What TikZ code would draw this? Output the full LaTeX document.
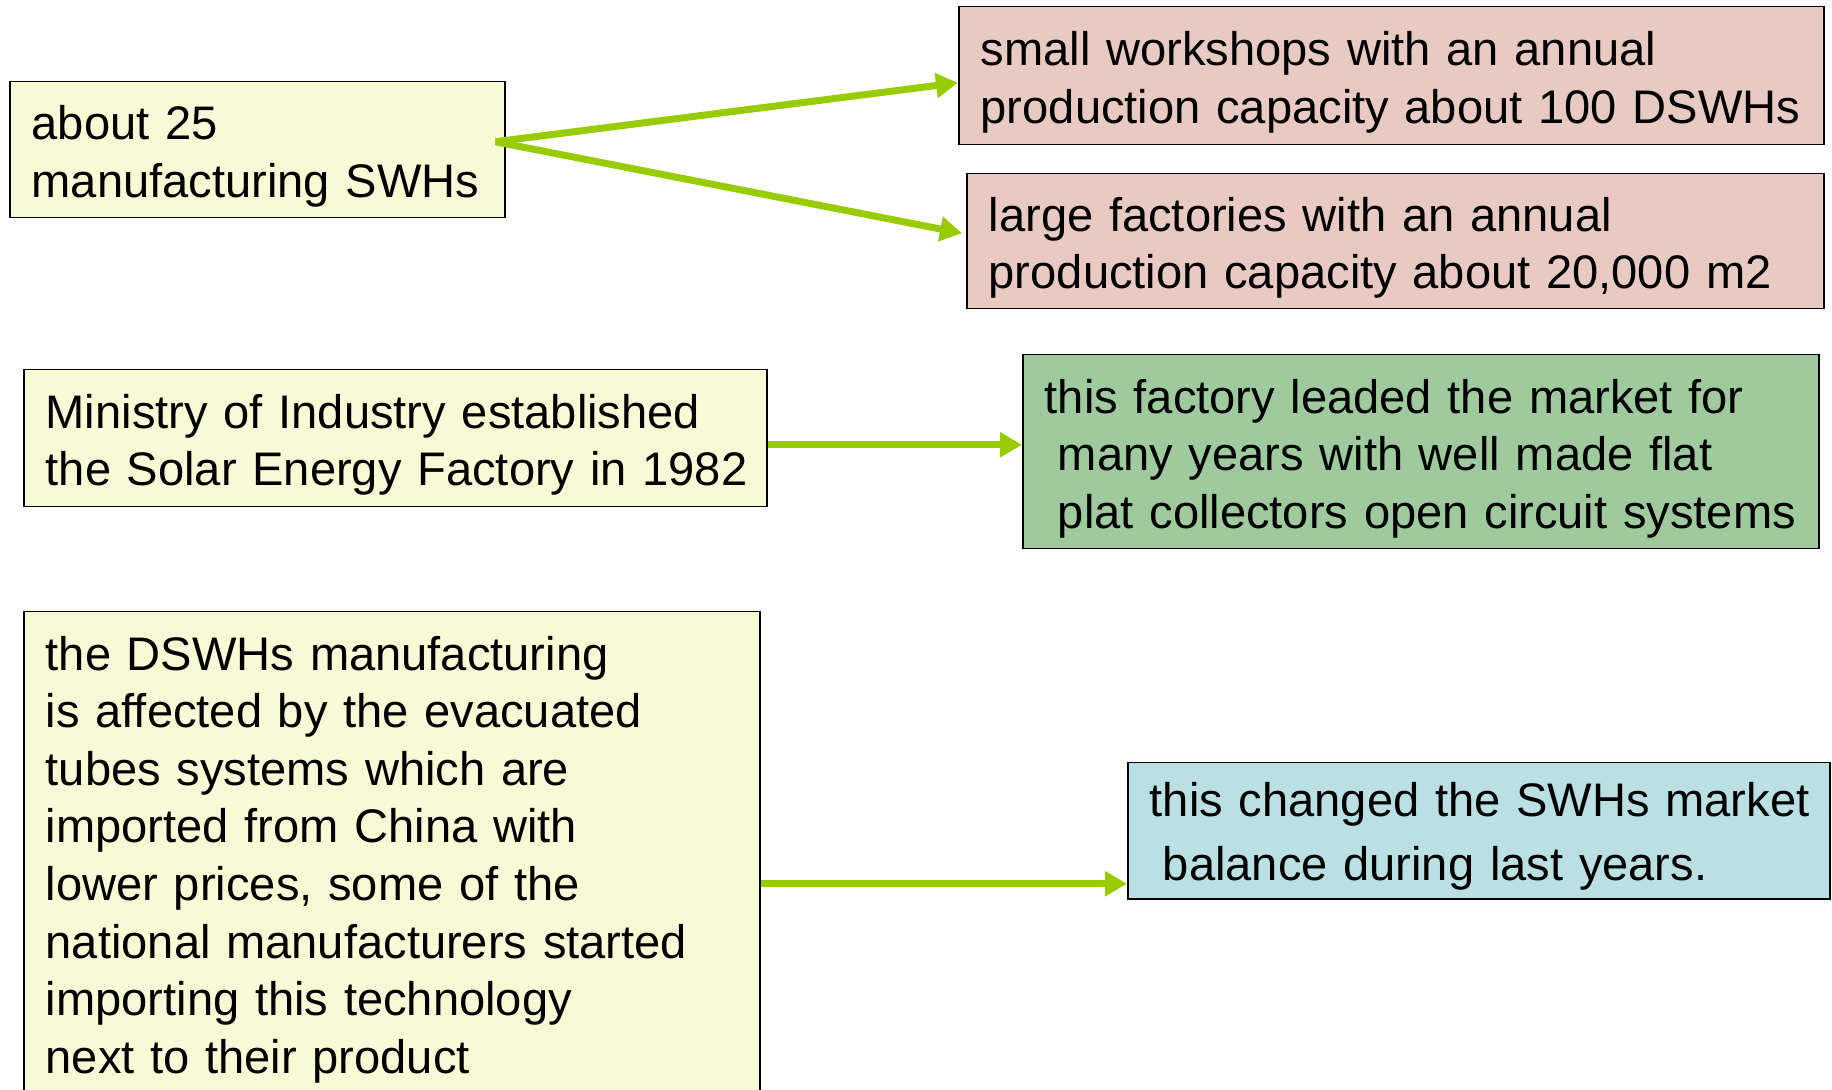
\documentclass[tikz,border=0pt]{standalone}
\usepackage{fontspec}
\setmainfont{Liberation Sans}
\usetikzlibrary{arrows.meta}
\definecolor{boxyellow}{HTML}{F8FAD6}
\definecolor{boxpink}{HTML}{E8CAC2}
\definecolor{boxgreen}{HTML}{9ECA9E}
\definecolor{boxblue}{HTML}{BAE0E3}
\definecolor{arrowgreen}{HTML}{99CC00}
\newcommand{\boxlines}[2][3.7pt]{\noindent\raisebox{-#1}[\height][\depth]{\begin{tabular}{@{}l@{}}#2\end{tabular}}}
\begin{document}
\begin{tikzpicture}[x=0.5pt,y=-0.5pt,
  box/.style={draw=black,line width=0.75pt,anchor=north west,align=left,inner xsep=11pt,inner ysep=0pt,font=\fontsize{23.55}{28.8}\selectfont},
  link/.style={draw=arrowgreen,line width=3.5pt,-{Triangle[length=11pt,width=12pt]}}]
\useasboundingbox (0,0) rectangle (1832,1090);

\node[box,fill=boxyellow,text width=225.5pt,minimum height=68pt] (swh) at (9,81) {\boxlines{about 25\\manufacturing SWHs}};
\node[box,fill=boxpink,text width=410.5pt,minimum height=69pt] (workshops) at (958,6) {\boxlines{small workshops with an annual\\production capacity about 100 DSWHs}};
\node[box,fill=boxpink,text width=406.5pt,minimum height=67.5pt] (factories) at (966,173) {\boxlines{large factories with an annual\\production capacity about 20,000 m2}};
\node[box,fill=boxyellow,text width=349.5pt,minimum height=68.5pt] (ministry) at (23,369) {\boxlines{Ministry of Industry established\\the Solar Energy Factory in 1982}};
\node[box,fill=boxgreen,text width=376pt,minimum height=97pt] (leaded) at (1022,354) {\boxlines{this factory leaded the market for\\\hspace*{.278em}many years with well made flat\\\hspace*{.278em}plat collectors open circuit systems}};
\node[box,fill=boxyellow,text width=346pt,minimum height=244pt] (dswh) at (23,611) {\boxlines[2.2pt]{the DSWHs manufacturing\\is affected by the evacuated\\tubes systems which are\\imported from China with\\lower prices, some of the\\national manufacturers started\\importing this technology\\next to their product}};
\node[box,fill=boxblue,text width=329pt,minimum height=68pt,font=\fontsize{23.55}{32}\selectfont] (balance) at (1127,762) {\boxlines[2.7pt]{this changed the SWHs market\\\hspace*{.278em}balance during last years.}};

\coordinate (fork) at ([xshift=-5pt,yshift=4pt]swh.east);
\draw[link] (fork) -- ([yshift=-3.5pt]workshops.west);
\draw[link] (fork) -- ([xshift=-2pt,yshift=4pt]factories.west);
\draw[link] ([yshift=-3.25pt]ministry.east) -- ([yshift=-3.25pt]ministry.east -| leaded.west);
\draw[link] ([yshift=-14pt]dswh.east) -- ([yshift=-14pt]dswh.east -| balance.west);
\end{tikzpicture}
\end{document}
